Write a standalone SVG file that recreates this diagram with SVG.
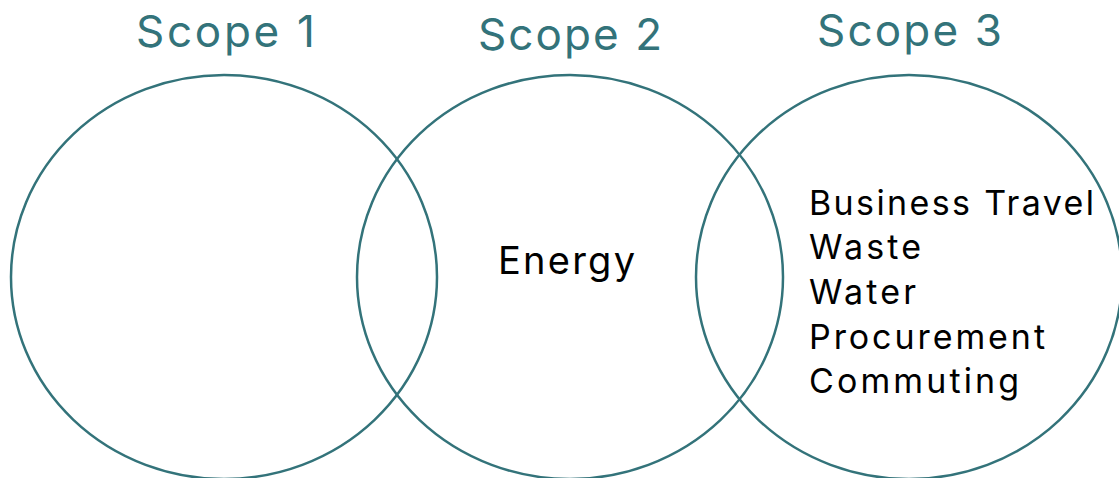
<svg xmlns="http://www.w3.org/2000/svg" width="1119" height="478" viewBox="0 0 1119 478">
<style>
.c{fill:none;stroke:#33737A;stroke-width:2.5}
.h{font-family:Inter,"Open Sans",sans-serif;font-size:44px;fill:#33737A}
.t{font-family:Inter,"Open Sans",sans-serif;font-size:34px;fill:#000}
</style>
<rect width="1119" height="478" fill="#fff"/>
<g id="scope1"><ellipse class="c" cx="224" cy="277" rx="213" ry="202"/><text class="h" x="136" y="47" textLength="179" lengthAdjust="spacing">Scope 1</text></g>
<g id="scope2"><ellipse class="c" cx="570" cy="277" rx="213" ry="202"/><text class="h" x="478" y="50" textLength="184" lengthAdjust="spacing">Scope 2</text><text class="t" x="498" y="274" style="font-size:38px" textLength="137" lengthAdjust="spacing">Energy</text></g>
<g id="scope3"><ellipse class="c" cx="909" cy="277" rx="213" ry="202"/><text class="h" x="817" y="46" textLength="185" lengthAdjust="spacing">Scope 3</text>
<text class="t" x="809" y="215" textLength="285" lengthAdjust="spacing">Business Travel</text>
<text class="t" x="809" y="259" textLength="112" lengthAdjust="spacing">Waste</text>
<text class="t" x="809" y="304" textLength="107" lengthAdjust="spacing">Water</text>
<text class="t" x="809" y="349" textLength="236" lengthAdjust="spacing">Procurement</text>
<text class="t" x="809" y="393" textLength="210" lengthAdjust="spacing">Commuting</text></g>
<g id="connectors"/>
</svg>
